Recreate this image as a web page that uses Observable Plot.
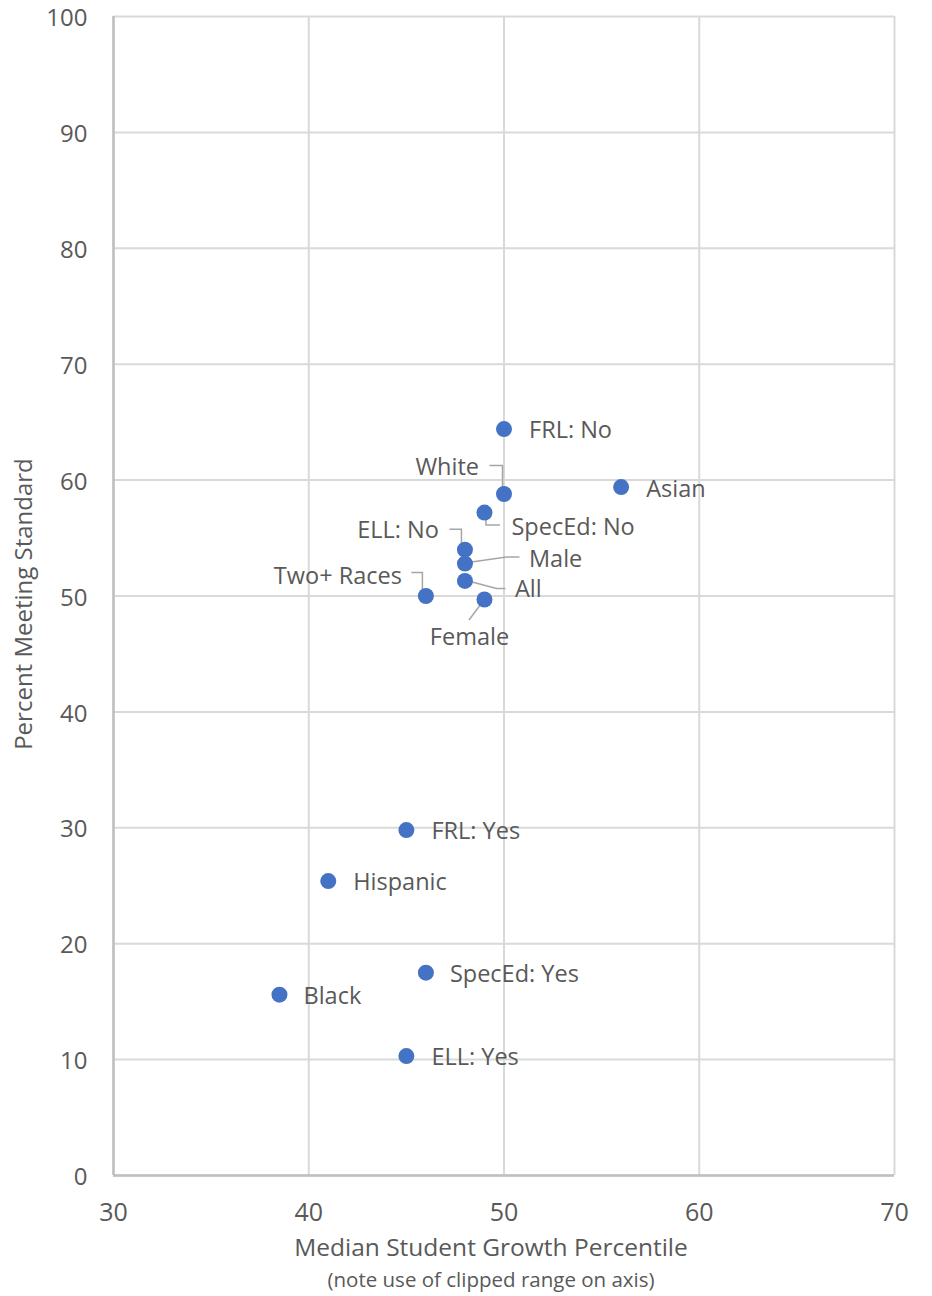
<!DOCTYPE html>
<html>
<head>
<meta charset="utf-8">
<script src="https://cdn.jsdelivr.net/npm/d3@7"></script>
<script src="https://cdn.jsdelivr.net/npm/@observablehq/plot@0.6"></script>
<style>
  html, body { margin: 0; padding: 0; background: #fff; }
  #chart svg { display: block; }
</style>
</head>
<body>
<div id="chart"></div>
<script>
// ---- data ----
const groups = ["FRL: No", "White", "Asian", "SpecEd: No", "ELL: No", "Male", "All", "Two+ Races", "Female", "FRL: Yes", "Hispanic", "SpecEd: Yes", "Black", "ELL: Yes"];
const medianSGP = [50, 50, 56, 49, 48, 48, 48, 46, 49, 45, 41, 46, 38.5, 45];
const pctMeeting = [64.4, 58.8, 59.4, 57.2, 54.0, 52.8, 51.3, 50.0, 49.7, 29.8, 25.4, 17.5, 15.6, 10.3];
const xTicks = [30, 40, 50, 60, 70];
const yTicks = [0, 10, 20, 30, 40, 50, 60, 70, 80, 90, 100];
const xTitle = "Median Student Growth Percentile";
const xSubtitle = "(note use of clipped range on axis)";
const yTitle = "Percent Meeting Standard";

// ---- label placement (pixel offsets from each point) ----
const placement = {
  "FRL: No":    {dx: 25, dy: 1, anchor: "start"},
  "Asian":      {dx: 25, dy: 2, anchor: "start"},
  "FRL: Yes":   {dx: 25, dy: 1, anchor: "start"},
  "Hispanic":   {dx: 25, dy: 1, anchor: "start"},
  "SpecEd: Yes":{dx: 24, dy: 2, anchor: "start"},
  "Black":      {dx: 24, dy: 2, anchor: "start"},
  "ELL: Yes":   {dx: 25, dy: 1, anchor: "start"},
  "White":      {dx: -25, dy: -27, anchor: "end", leader: [[-14,-28],[-1,-28],[-1,-4]]},
  "SpecEd: No": {dx: 27, dy: 15, anchor: "start", leader: [[2,3],[2,13],[16,13]]},
  "ELL: No":    {dx: -26, dy: -19, anchor: "end", leader: [[-15,-20],[-3,-20],[-3,-3]]},
  "Male":       {dx: 64, dy: -4, anchor: "start", leader: [[0,0],[42,-6],[55,-6]]},
  "All":        {dx: 50, dy: 9, anchor: "start", leader: [[2,0],[32,8],[41,8]]},
  "Two+ Races": {dx: -24, dy: -20, anchor: "end", leader: [[-14,-23],[-3,-23],[-3,-3]]},
  "Female":     {dx: -15, dy: 38, anchor: "middle", leader: [[0,1],[-15,21]]}
};

const rows = groups.map((g, i) => ({group: g, sgp: medianSGP[i], pct: pctMeeting[i]}));

const textColor = "#595959";
const font = "'Open Sans', sans-serif";

const labelMarks = rows.map(r => {
  const p = placement[r.group];
  return Plot.text([r], {
    x: "sgp", y: "pct", text: "group",
    dx: p.dx, dy: p.dy, textAnchor: p.anchor,
    fill: textColor, fontSize: 23.5, fontFamily: font
  });
});

function leaders(index, scales, values, dimensions) {
  const g = d3.create("svg:g");
  rows.forEach(r => {
    const p = placement[r.group];
    if (!p.leader) return;
    const cx = scales.x(r.sgp), cy = scales.y(r.pct);
    g.append("polyline")
      .attr("points", p.leader.map(([a, b]) => `${cx + a},${cy + b}`).join(" "))
      .attr("fill", "none")
      .attr("stroke", "#a6a6a6")
      .attr("stroke-width", 1.5);
  });
  return g.node();
}

const chart = Plot.plot({
  width: 932,
  height: 1296,
  marginLeft: 113,
  marginRight: 38,
  marginTop: 16,
  marginBottom: 121,
  style: {fontFamily: font, background: "#fff"},
  x: {domain: [30, 70], ticks: xTicks, label: null},
  y: {domain: [0, 100], ticks: yTicks, label: null},
  marks: [
    Plot.gridX(xTicks, {stroke: "#d9d9d9", strokeOpacity: 1, strokeWidth: 2}),
    Plot.gridY(yTicks, {stroke: "#d9d9d9", strokeOpacity: 1, strokeWidth: 2}),
    Plot.ruleX([30], {stroke: "#bfbfbf", strokeWidth: 2.5}),
    Plot.ruleY([0], {stroke: "#bfbfbf", strokeWidth: 2.5}),
    Plot.axisX(xTicks, {tickSize: 0, tickPadding: 28, fontSize: 25, fill: textColor, label: null}),
    Plot.axisY(yTicks, {tickSize: 0, tickPadding: 26, dy: 2, fontSize: 24, fill: textColor, label: null}),
    leaders,
    Plot.dot(rows, {x: "sgp", y: "pct", r: 8, fill: "#4472c4", stroke: "none"}),
    ...labelMarks,
    Plot.text([xTitle], {frameAnchor: "bottom", lineAnchor: "middle", dx: -13, dy: 73, fill: textColor, fontSize: 24.5, fontFamily: font}),
    Plot.text([xSubtitle], {frameAnchor: "bottom", lineAnchor: "middle", dx: -13, dy: 105, fill: textColor, fontSize: 20.5, fontFamily: font}),
    Plot.text([yTitle], {frameAnchor: "left", textAnchor: "middle", lineAnchor: "middle", dx: -89, dy: 8, rotate: -90, fill: textColor, fontSize: 24, fontFamily: font})
  ]
});

document.getElementById("chart").appendChild(chart);
</script>
</body>
</html>
